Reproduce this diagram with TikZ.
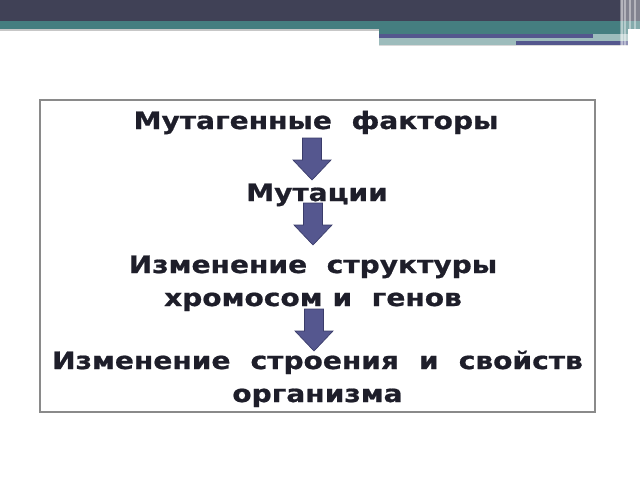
\documentclass[tikz,border=0pt]{standalone}
\usepackage{fontspec}
\setmainfont{DejaVu Sans}[FakeStretch=1.17, BoldFeatures={FakeBold=0.8}]
\usetikzlibrary{positioning}
\definecolor{slatedark}{HTML}{404156}
\definecolor{tealband}{HTML}{457E80}
\definecolor{tealpale}{HTML}{9DBCBC}
\definecolor{bandblue}{HTML}{54578E}
\definecolor{arrowfill}{HTML}{55578F}
\definecolor{arrowline}{HTML}{3A3C6A}
\definecolor{inkdark}{HTML}{1E1E2A}
\definecolor{framegray}{HTML}{8A8A8A}

\tikzset{
  caption/.style={font=\fontsize{18}{24.75}\selectfont\bfseries, text=inkdark, inner sep=0pt, align=center},
  blockarrow/.style={fill=arrowfill, draw=arrowline, line width=0.5pt, line join=miter},
  downarrow/.pic={\path[pic actions] (-9.5,0) -- (9.5,0) -- (9.5,22) -- (19,22) -- (0,42) -- (-19,22) -- (-9.5,22) -- cycle;}
}

\begin{document}
\begin{tikzpicture}[x=0.75pt, y=-0.75pt]
    \useasboundingbox (0,0) rectangle (640,480);
    % title band
    \fill[slatedark] (0,0) rectangle (640,21);
    \fill[tealband] (0,21) rectangle (640,28.5);
    \fill[black!22] (0,28.5) rectangle (379,30.5);
    \fill[tealband] (379,28.5) rectangle (628,34);
    \fill[tealpale] (379,34) rectangle (628,44.5);
    \fill[black!15] (379,44.5) rectangle (628,46);
    \fill[bandblue] (379,34) rectangle (593,38);
    \fill[bandblue] (516,41) rectangle (628,45);
    \fill[white, opacity=0.35] (620,0) rectangle (640,46);
    \foreach \x in {621,624,629,634} {
        \fill[white, opacity=0.4] (\x,0) rectangle +(1.5,46);
    }
    % frame
    \draw[framegray, line width=1.1pt] (40,100) rectangle (595,412);
    % texts
    \node[caption, anchor=base] (factors) at (316,129) {Мутагенные\ \ факторы};
    \node[caption, anchor=base] (mutations) at (317,201) {Мутации};
    \node[caption, anchor=base] (structure) at (313,306) {Изменение\ \ структуры\\хромосом и\ \ генов};
    \node[caption, anchor=base] (organism) at (317.5,402) {\makebox[398pt][s]{Изменение строения и свойств}\\организма};
    % arrows
    \pic[blockarrow] at (312,138) {downarrow};
    \pic[blockarrow] at (313,203) {downarrow};
    \pic[blockarrow] at (314,309) {downarrow};
\end{tikzpicture}
\end{document}
